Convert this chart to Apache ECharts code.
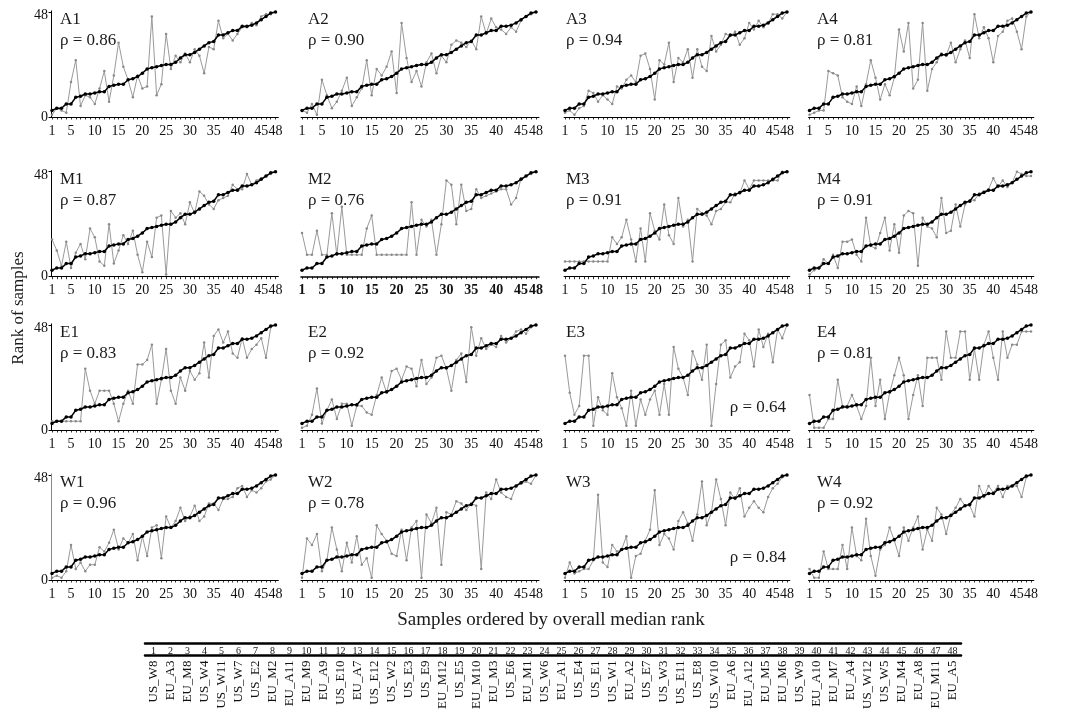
<!DOCTYPE html>
<html><head><meta charset="utf-8">
<script src="https://cdn.jsdelivr.net/npm/echarts@6/dist/echarts.min.js"></script>
<style>html,body{margin:0;padding:0;background:#fff}#c{width:1069px;height:712px}</style>
</head><body><div id="c"></div>
<script>
// ---------- data ----------
const sampleIndex = Array.from({length: 48}, (_, i) => i + 1);
const sampleNames = ['US_W8','EU_A3','EU_M8','US_W4','US_W11','US_W7','US_E2','EU_M2','EU_A11','EU_M9','EU_A9','US_E10','EU_A7','US_E12','US_W2','US_E3','US_E9','EU_M12','US_E5','EU_M10','EU_M3','US_E6','EU_M1','US_W6','EU_A1','US_E4','US_E1','US_W1','EU_A2','US_E7','US_W3','US_E11','US_E8','US_W10','EU_A6','EU_A12','EU_M5','EU_M6','US_W9','EU_A10','EU_M7','EU_A4','US_W12','US_W5','EU_M4','EU_A8','EU_M11','EU_A5'];
const xTickLabels = [1,5,10,15,20,25,30,35,40,45,48];
const yTickLabels = [0,48];
const medianRank = [3,4,4,6,6,9,9.5,10.5,10.5,11,11.5,11.5,14,14.5,15,15,17,17.5,18.5,20,22,22.5,23,23.5,24,24,25,27,28.5,28.5,29.5,31,32.5,34,34.5,37.5,37.5,38.5,39.5,39.5,41.5,41.5,42,43,44.5,46,47.5,48];
const panelNames = ['A1','A2','A3','A4','M1','M2','M3','M4','E1','E2','E3','E4','W1','W2','W3','W4'];
const rhoValues = ['0.86','0.90','0.94','0.81','0.87','0.76','0.91','0.91','0.83','0.92','0.64','0.81','0.96','0.78','0.84','0.92'];

const rankA1 = [1,4,3,2,16,26,5,10,9,6,13,21,7,19,34,23,17,9,19,13,14,46,10,15,38,22,28,25,29,25,31,28,20,32,31,44,36,38,35,38,41,41,43,42,46,47,47,48];
const rankA2 = [3,2,6,1,17,10,4,7,12,18,5,9,13,26,10,22,19,23,30,11,43,27,16,21,14,25,29,20,28,25,33,35,34,32,35,31,46,38,45,41,40,38,41,39,44,46,47,48];
const rankA3 = [2,3,1,4,5,12,11,7,10,8,6,14,13,17,19,16,28,29,22,8,26,24,34,16,27,25,31,18,31,23,21,37,30,33,38,37,39,33,36,43,40,44,41,43,47,47,45,48];
const rankA4 = [1,2,3,3,21,20,19,9,7,6,14,5,15,26,18,8,15,10,18,40,30,43,13,17,43,12,22,25,29,28,34,25,31,35,27,47,36,41,36,25,37,39,44,45,39,31,46,48];
const rankM1 = [17,12,5,16,4,11,15,8,22,18,7,5,24,6,12,19,15,21,10,2,16,9,27,28,1,30,27,29,24,34,29,39,37,33,31,35,36,37,42,40,40,47,42,44,45,46,47,48];
const rankM2 = [20,10,10,21,10,10,29,10,32,10,10,10,10,22,28,10,10,10,10,10,10,10,34,10,26,23,26,10,24,44,42,24,42,30,31,40,36,37,38,39,40,40,33,36,45,46,47,48];
const rankM3 = [7,7,7,7,7,7,7,7,7,7,18,15,18,26,17,7,22,7,29,21,17,33,19,15,36,23,26,7,31,29,28,24,30,31,34,34,38,38,44,40,44,44,44,44,44,44,48,48];
const rankM4 = [1,3,4,8,6,10,4,16,16,17,10,7,27,14,13,20,27,12,24,11,28,30,29,5,27,23,22,18,36,20,21,33,23,33,35,35,38,39,40,45,41,44,41,43,48,47,46,46];
const rankE1 = [4,4,4,4,4,4,4,28,18,12,18,18,18,12,4,12,18,12,30,30,32,39,12,23,37,18,12,24,18,27,23,26,40,24,43,46,40,45,35,33,42,33,37,39,42,33,47,48];
const rankE2 = [1,2,7,19,3,9,14,5,12,12,2,11,11,8,7,16,24,17,27,28,23,29,28,20,32,21,24,33,34,28,18,32,35,22,47,34,42,37,39,38,43,40,42,45,46,44,47,48];
const rankE3 = [34,17,7,11,34,34,2,15,9,7,26,15,10,2,18,2,14,7,14,18,7,21,7,38,28,24,16,36,30,23,39,2,21,39,41,24,29,31,44,41,29,46,38,44,31,46,42,48];
const rankE4 = [16,1,1,1,5,5,23,11,11,16,11,5,11,33,11,23,5,17,25,33,25,5,16,25,11,33,33,33,23,45,33,33,45,45,23,37,23,39,45,33,23,45,33,39,39,45,45,45];
const rankW1 = [1,2,1,4,16,5,8,4,7,7,15,13,17,23,14,19,17,21,9,20,11,24,25,10,29,24,27,33,27,29,34,27,29,35,35,32,37,37,38,42,43,38,41,40,42,45,46,48];
const rankW2 = [1,19,16,21,4,9,24,14,4,17,8,20,7,10,1,25,21,18,12,11,23,9,24,27,1,30,26,33,7,31,30,36,35,32,35,34,5,40,37,46,40,38,37,43,44,45,44,48];
const rankW3 = [1,8,3,4,5,5,9,39,8,6,16,13,14,20,1,11,12,18,23,41,16,21,19,14,27,31,26,18,30,45,25,31,46,37,25,40,37,42,29,33,36,33,31,38,42,44,47,48];
const rankW4 = [5,1,1,13,5,5,5,16,5,24,11,9,28,11,2,14,16,24,18,11,24,18,24,29,14,23,18,33,30,21,30,33,37,34,34,29,43,38,43,40,43,38,43,43,43,38,47,48];

const panelRanks = [rankA1,rankA2,rankA3,rankA4,rankM1,rankM2,rankM3,rankM4,rankE1,rankE2,rankE3,rankE4,rankW1,rankW2,rankW3,rankW4];

// ---------- layout ----------
const FONT = '"Liberation Serif", "DejaVu Serif", serif';
const colX1 = [52, 302, 565, 809.5];
const colX48 = [275.5, 536, 787, 1031];
const rowAxisY = [117, 276.7, 430, 580];
const titleX = [60, 308, 566, 817];
const X_MIN = 0.8, X_MAX = 48.6, Y_MAX = 48.5, Y48PX = 105;
const bottomRho = ['E3', 'W3'];
const boldAxisPanels = ['M2'];

const grids = [], xAxes = [], yAxes = [], series = [], graphics = [];

panelNames.forEach((name, p) => {
  const row = Math.floor(p / 4), col = p % 4;
  const u = (colX48[col] - colX1[col]) / 47;
  const left = colX1[col] - (1 - X_MIN) * u;
  const width = (X_MAX - X_MIN) * u;
  const h = Y48PX * Y_MAX / 48;
  const y0 = rowAxisY[row];
  grids.push({left: left, top: y0 - h, width: width, height: h, containLabel: false});
  const bold = boldAxisPanels.includes(name);
  xAxes.push({
    gridIndex: p, type: 'value', min: X_MIN, max: X_MAX,
    axisLine: {show: true, onZero: false, lineStyle: {color: '#000', width: bold ? 1.6 : 1}},
    axisTick: {show: true, customValues: sampleIndex, length: 2.5, lineStyle: {color: '#000', width: 0.8}},
    axisLabel: {show: true, customValues: xTickLabels, margin: 7, fontFamily: FONT, fontSize: 14,
      fontWeight: bold ? 'bold' : 'normal', color: '#111'},
    splitLine: {show: false}
  });
  const showY = col === 0;
  yAxes.push({
    gridIndex: p, type: 'value', min: 0, max: Y_MAX, show: showY,
    axisLine: {show: showY, lineStyle: {color: row === 3 ? '#888' : '#000', width: 1}},
    axisTick: {show: showY, customValues: yTickLabels, length: 2.5, lineStyle: {color: '#000'}},
    axisLabel: {show: showY, customValues: yTickLabels, margin: 3, fontFamily: FONT, fontSize: 14, color: '#111',
      formatter: v => (v === 48 ? '{t|48}' : String(v)),
      rich: {t: {fontFamily: FONT, fontSize: 14, color: '#111', padding: [7, 0, 0, 0]}}},
    splitLine: {show: false}
  });
  series.push({
    type: 'line', xAxisIndex: p, yAxisIndex: p, silent: true, animation: false,
    data: panelRanks[p].map((v, i) => [sampleIndex[i], v]),
    symbol: 'circle', symbolSize: 2.5, showSymbol: true,
    lineStyle: {color: '#9a9a9a', width: 1},
    itemStyle: {color: '#8a8a8a'}, z: 2
  });
  series.push({
    type: 'line', xAxisIndex: p, yAxisIndex: p, silent: true, animation: false,
    data: medianRank.map((v, i) => [sampleIndex[i], v]),
    symbol: 'circle', symbolSize: 3.5, showSymbol: true,
    lineStyle: {color: '#000', width: 1.5},
    itemStyle: {color: '#000'}, z: 3
  });
  graphics.push({type: 'text', x: titleX[col], y: y0 - 97.5, silent: true,
    style: {text: name, font: '17px ' + FONT, fill: '#1a1a1a', align: 'left', verticalAlign: 'middle'}});
  const rhoTxt = '\u03c1 = ' + rhoValues[p];
  if (bottomRho.includes(name)) {
    graphics.push({type: 'text', x: colX48[col] - 1, y: y0 - 22, silent: true,
      style: {text: rhoTxt, font: '17px ' + FONT, fill: '#1a1a1a', align: 'right', verticalAlign: 'middle'}});
  } else {
    graphics.push({type: 'text', x: titleX[col], y: y0 - 76, silent: true,
      style: {text: rhoTxt, font: '17px ' + FONT, fill: '#1a1a1a', align: 'left', verticalAlign: 'middle'}});
  }
});

// table of sample names (category axes)
const tg = grids.length;
grids.push({left: 145, top: 643, width: 816, height: 16.5});
xAxes.push({
  gridIndex: tg, type: 'category', position: 'top', data: sampleIndex.map(String), boundaryGap: true,
  axisLine: {show: true, onZero: false, lineStyle: {color: '#000', width: 2.5}},
  axisTick: {show: false},
  axisLabel: {show: true, inside: true, interval: 0, margin: 3, fontFamily: FONT, fontSize: 10, color: '#111'}
});
xAxes.push({
  gridIndex: tg, type: 'category', position: 'bottom', data: sampleNames, boundaryGap: true,
  axisLine: {show: true, onZero: false, lineStyle: {color: '#000', width: 2.5}},
  axisTick: {show: false},
  axisLabel: {show: true, interval: 0, rotate: 90, margin: 5, fontFamily: FONT, fontSize: 13, color: '#111'}
});
yAxes.push({gridIndex: tg, type: 'value', show: false, min: 0, max: 1});

graphics.push({type: 'text', x: 19, y: 308, rotation: Math.PI / 2, silent: true,
  style: {text: 'Rank of samples', font: '17px ' + FONT, fill: '#1a1a1a', align: 'center', verticalAlign: 'middle'}});
graphics.push({type: 'text', x: 551, y: 620, silent: true,
  style: {text: 'Samples ordered by overall median rank', font: '19px ' + FONT, fill: '#1a1a1a', align: 'center', verticalAlign: 'middle'}});

const chart = echarts.init(document.getElementById('c'), null, {renderer: 'canvas'});
chart.setOption({
  animation: false,
  backgroundColor: '#fff',
  grid: grids, xAxis: xAxes, yAxis: yAxes, series: series, graphic: graphics
});
</script></body></html>
